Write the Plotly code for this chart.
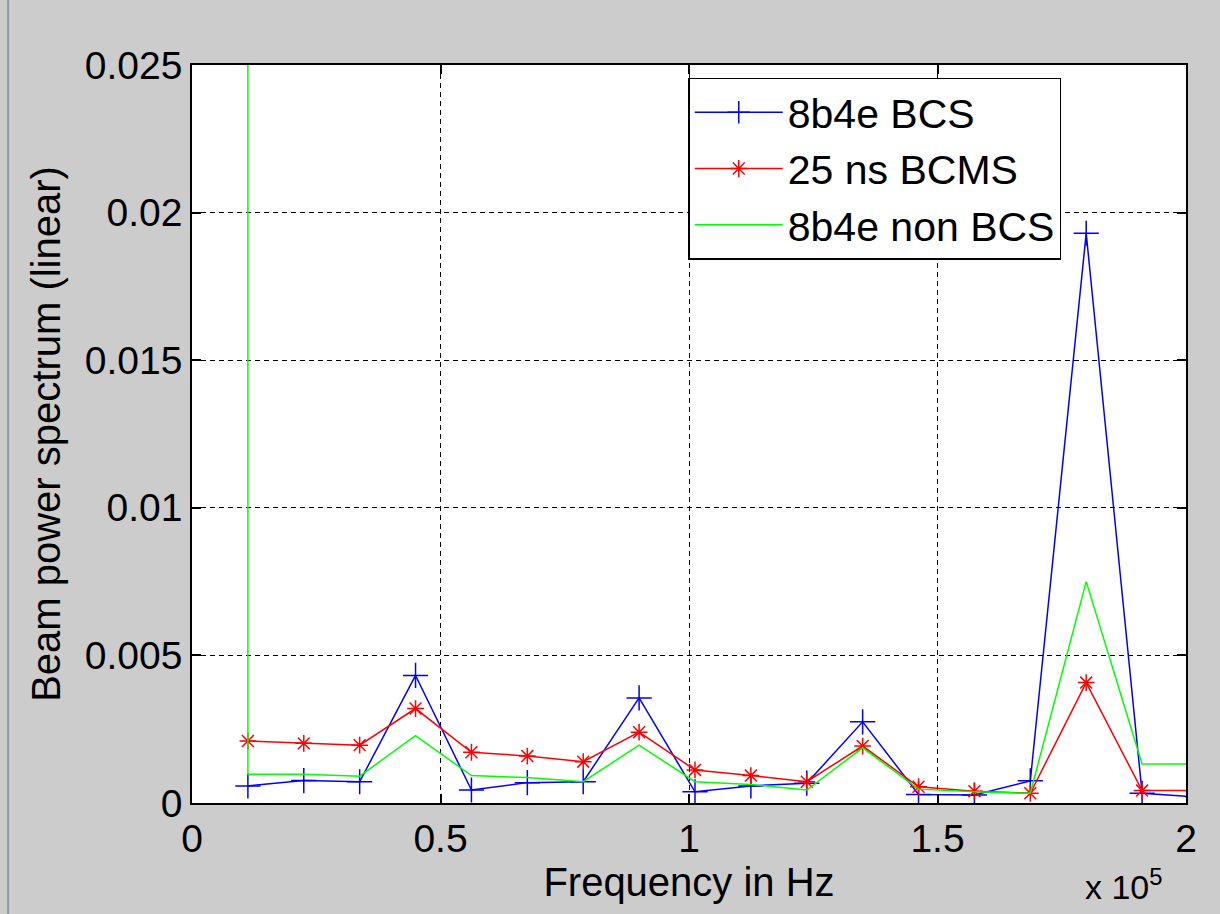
import plotly.graph_objects as go

# Harmonic frequencies (Hz) - multiples of the revolution frequency
freq = [11245, 22490, 33735, 44980, 56225, 67470, 78715, 89960, 101205,
        112450, 123695, 134940, 146185, 157430, 168675, 179920, 191165, 202410]

bcs_8b4e = [0.00058, 0.00076, 0.00072, 0.00432, 0.00044, 0.00069, 0.00072, 0.00356, 0.00038,
            0.00058, 0.00067, 0.00275, 0.00029, 0.00027, 0.00075, 0.0193, 0.00033, 0.0002]

bcms_25ns = [0.0021, 0.00202, 0.00196, 0.0032, 0.00172, 0.00159, 0.0014, 0.00240, 0.00112,
             0.00093, 0.00072, 0.00193, 0.00055, 0.0004, 0.00033, 0.00408, 0.00042, 0.00042]

# green series starts with a large (off-scale) value at the first harmonic
nonbcs_freq = [11245] + freq
nonbcs_8b4e = [0.06, 0.00097, 0.00097, 0.00091, 0.00228, 0.00093, 0.00086, 0.00072, 0.00196, 0.00072,
               0.00063, 0.00044, 0.00187, 0.00047, 0.00038, 0.00033, 0.0075, 0.00132, 0.00132]

x_tickvals = [0, 50000, 100000, 150000, 200000]
x_ticktext = ["0", "0.5", "1", "1.5", "2"]
y_tickvals = [0, 0.005, 0.01, 0.015, 0.02, 0.025]
y_ticktext = ["0", "0.005", "0.01", "0.015", "0.02", "0.025"]

FONT = "Liberation Sans, Arial, sans-serif"

fig = go.Figure()
fig.add_trace(go.Scatter(
    x=freq, y=bcs_8b4e, name="8b4e BCS", mode="lines+markers",
    line=dict(color="#0000ff", width=1.5),
    marker=dict(symbol="cross-thin", size=18, line=dict(color="#0000ff", width=1.5)),
))
fig.add_trace(go.Scatter(
    x=freq, y=bcms_25ns, name="25 ns BCMS", mode="lines+markers",
    line=dict(color="#ff0000", width=1.5),
    marker=dict(symbol="asterisk-open", size=14, line=dict(color="#ff0000", width=1.5)),
))
fig.add_trace(go.Scatter(
    x=nonbcs_freq, y=nonbcs_8b4e, name="8b4e non BCS", mode="lines",
    line=dict(color="#00ff00", width=1.5),
))

axis_common = dict(
    showline=True, linecolor="black", linewidth=1.5, mirror="ticks",
    ticks="inside", ticklen=9, tickcolor="black", tickwidth=1.5,
    showgrid=True, gridcolor="black", gridwidth=1, griddash="5px,4px",
    zeroline=False, tickfont=dict(family=FONT, size=39, color="black"),
)

fig.update_xaxes(
    range=[0, 200000], tickvals=x_tickvals, ticktext=x_ticktext,
    title=dict(text="Frequency in Hz", font=dict(family=FONT, size=40, color="black"), standoff=0),
    **axis_common,
)
fig.update_yaxes(
    range=[0, 0.025], tickvals=y_tickvals, ticktext=y_ticktext,
    title=dict(text="Beam power spectrum (linear)", font=dict(family=FONT, size=40, color="black"), standoff=12),
    **axis_common,
)

fig.add_annotation(
    text="x 10<sup>5</sup>", xref="paper", yref="paper", x=0.979, y=-0.078,
    xanchor="right", yanchor="top", showarrow=False,
    font=dict(family=FONT, size=34, color="black"),
)

fig.add_shape(type="line", xref="paper", yref="paper", x0=-0.185, x1=-0.185, y0=-0.2, y1=1.1,
              line=dict(color="#8a9bb0", width=2))

fig.update_layout(
    width=1220, height=914,
    margin=dict(l=192, r=34, t=65, b=111),
    paper_bgcolor="#cccccc", plot_bgcolor="white",
    font=dict(family=FONT, color="black"),
    legend=dict(
        x=0.8745, y=0.983, xanchor="right", yanchor="top",
        bgcolor="white", bordercolor="black", borderwidth=1.5,
        font=dict(family=FONT, size=41, color="black"),
        itemwidth=88, tracegroupgap=0,
    ),
    showlegend=True,
)

fig.write_html(
    "out.html",
    config={"displayModeBar": False},
    post_script="document.body.style.margin='0';document.body.style.padding='0';"
                "document.body.style.background='#cccccc';",
)
